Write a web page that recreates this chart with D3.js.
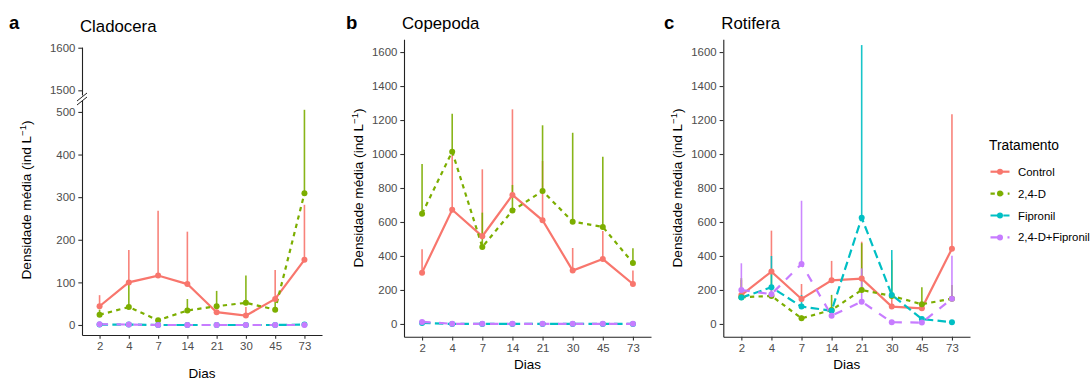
<!DOCTYPE html>
<html><head><meta charset="utf-8">
<script src="https://cdn.jsdelivr.net/npm/d3@7"></script>
<style>
body{margin:0;background:#fff;}
svg{display:block;font-family:"Liberation Sans",Arial,sans-serif;}
</style></head>
<body><svg id="c" width="1091" height="380"></svg>
<script>
// ---- data ----
const days = ["2","4","7","14","21","30","45","73"];
const treatments = ["Control","2,4-D","Fipronil","2,4-D+Fipronil"];
const colors = ["#F8766D","#7CAE00","#00BFC4","#C77CFF"];
const dashes = [null,"4.3,4.3","8.5,4.3","8.5,8.5"];

// Cladocera
const cladoControl      = [44,100,116,96,30,22,61,153];
const cladoControlUp    = [70,176,268,219,34,42,129,282];
const clado24D          = [24,42,11,34,44,52,36,309];
const clado24DUp        = [36,102,14,61,80,116,55,505];
const cladoFip          = [1,1,0,0,0,0,0,1];
const cladoFipUp        = [2,2,1,1,1,1,1,2];
const clado24DFip       = [2,1,0,0,0,0,0,0];
const clado24DFipUp     = [3,2,1,1,1,1,1,1];

// Copepoda
const copeControl       = [302,672,516,759,610,314,382,235];
const copeControlUp     = [439,994,910,1263,959,447,547,314];
const cope24D           = [649,1014,453,667,782,602,571,359];
const cope24DUp         = [941,1237,655,818,1169,1125,984,445];
const copeFip           = [6,0,0,0,0,0,0,0];
const copeFipUp         = [8,1,1,1,1,1,1,1];
const cope24DFip        = [12,1,1,1,1,1,1,1];
const cope24DFipUp      = [14,2,2,2,2,2,2,2];

// Rotifera
const rotiControl       = [170,308,147,257,267,102,92,443];
const rotiControlUp     = [260,549,235,371,484,160,110,1234];
const roti24D           = [157,165,33,82,200,165,116,149];
const roti24DUp         = [270,320,50,171,475,376,216,229];
const rotiFip           = [155,216,102,78,625,171,29,10];
const rotiFipUp         = [200,400,170,100,1641,435,40,15];
const roti24DFip        = [200,175,353,49,131,10,8,149];
const roti24DFipUp      = [357,200,725,60,327,15,10,402];

const yTicksAlow = [0,100,200,300,400,500];
const yTicksAhigh = [1500,1600];
const yTicksBC = [0,200,400,600,800,1000,1200,1400,1600];

// ---- drawing ----
const svg = d3.select("#c");
const axisCol = "#222", tickTxt = "#4D4D4D";
const fmt = d3.format("d");

function styleAxis(g){
  g.attr("font-family",null).attr("font-size",null);
  g.selectAll("path.domain").attr("stroke",axisCol).attr("stroke-width",1.1);
  g.selectAll(".tick line").attr("stroke","#333").attr("stroke-width",1.1);
  g.selectAll(".tick text").attr("fill",tickTxt).style("font-size","11.4px")
    .style("font-family","'Liberation Sans',Arial,sans-serif");
}

function panel(cfg){
  const x = d3.scalePoint().domain(days).range(cfg.xr).padding(0.6);
  const g = svg.append("g");
  const yOf = cfg.yOf;
  // axes
  const xa = g.append("g").attr("transform",`translate(0,${cfg.xAxisY})`)
    .call(d3.axisBottom(x).tickSize(3.7).tickSizeOuter(0).tickPadding(3.5));
  styleAxis(xa);
  cfg.yScales.forEach(s=>{
    const ya = g.append("g").attr("transform",`translate(${cfg.xr[0]},0)`)
      .call(d3.axisLeft(s.scale).tickValues(s.ticks).tickFormat(fmt).tickSize(3.7).tickSizeOuter(0).tickPadding(3));
    styleAxis(ya);
  });
  if(cfg.brk){
    const bx = cfg.xr[0];
    [0,4].forEach(o=>{
      g.append("line").attr("x1",bx-5).attr("y1",cfg.brk+4+o).attr("x2",bx+5).attr("y2",cfg.brk-4+o)
        .attr("stroke",axisCol).attr("stroke-width",1);
    });
  }
  // series
  const series = cfg.series;
  const line = d3.line().x((d,i)=>x(days[i])).y(d=>yOf(d));
  series.forEach((s,k)=>{
    g.append("g").selectAll("line").data(s.m).join("line")
      .attr("x1",(d,i)=>x(days[i])).attr("x2",(d,i)=>x(days[i]))
      .attr("y1",d=>yOf(d)).attr("y2",(d,i)=>yOf(s.u[i]))
      .attr("stroke",colors[k]).attr("stroke-width",1.6).attr("opacity",0.9);
  });
  series.forEach((s,k)=>{
    g.append("path").datum(s.m).attr("d",line).attr("fill","none")
      .attr("stroke",colors[k]).attr("stroke-width",2.2)
      .attr("stroke-dasharray",dashes[k]);
  });
  series.forEach((s,k)=>{
    g.append("g").selectAll("circle").data(s.m).join("circle")
      .attr("cx",(d,i)=>x(days[i])).attr("cy",d=>yOf(d)).attr("r",3)
      .attr("fill",colors[k]);
  });
  // titles
  g.append("text").attr("x",cfg.letterX).attr("y",cfg.letterY).text(cfg.letter)
    .style("font-weight","bold").style("font-size","18.5px").attr("fill","#000");
  g.append("text").attr("x",cfg.xr[0]-2).attr("y",cfg.titleY).text(cfg.title)
    .style("font-size","16.8px").attr("fill","#000");
  g.append("text").attr("x",(cfg.xr[0]+cfg.xr[1])/2).attr("y",cfg.diasY).attr("text-anchor","middle")
    .text("Dias").style("font-size","13.5px").attr("fill","#000");
  const yt = g.append("text").attr("transform",`translate(${cfg.ytX},${cfg.ytY}) rotate(-90)`)
    .attr("text-anchor","middle").style("font-size","13.6px").attr("fill","#000");
  yt.append("tspan").text("Densidade média (ind L");
  yt.append("tspan").text("−1").attr("dy",-5).style("font-size","9.5px");
  yt.append("tspan").text(")").attr("dy",5);
}

// Panel a (broken axis)
const yaLow = d3.scaleLinear().domain([-23.5,528]).range([335,100]);
const yaHigh = d3.scaleLinear().domain([1489,1601.7]).range([95,47]);
panel({
  xr:[82,322], xAxisY:335, letter:"a", letterX:9, letterY:28.5, title:"Cladocera", titleY:32,
  diasY:377.5, ytX:31, ytY:200, brk:97,
  yScales:[{scale:yaLow,ticks:yTicksAlow},{scale:yaHigh,ticks:yTicksAhigh}],
  yOf: v => v>1000 ? yaHigh(v) : yaLow(v),
  series:[{m:cladoControl,u:cladoControlUp},{m:clado24D,u:clado24DUp},{m:cladoFip,u:cladoFipUp},{m:clado24DFip,u:clado24DFipUp}]
});
const yb = d3.scaleLinear().domain([-75,1675]).range([336.7,39.3]);
panel({
  xr:[404,651], xAxisY:336.7, letter:"b", letterX:346, letterY:28.5, title:"Copepoda", titleY:29,
  diasY:368.5, ytX:363, ytY:188,
  yScales:[{scale:yb,ticks:yTicksBC}], yOf: v=>yb(v),
  series:[{m:copeControl,u:copeControlUp},{m:cope24D,u:cope24DUp},{m:copeFip,u:copeFipUp},{m:cope24DFip,u:cope24DFipUp}]
});
const yc = d3.scaleLinear().domain([-75,1675]).range([336.7,39.3]);
panel({
  xr:[723.3,970], xAxisY:336.7, letter:"c", letterX:664, letterY:28.5, title:"Rotifera", titleY:29,
  diasY:368.5, ytX:682, ytY:188,
  yScales:[{scale:yc,ticks:yTicksBC}], yOf: v=>yc(v),
  series:[{m:rotiControl,u:rotiControlUp},{m:roti24D,u:roti24DUp},{m:rotiFip,u:rotiFipUp},{m:roti24DFip,u:roti24DFipUp}]
});

// legend
const lg = svg.append("g");
lg.append("text").attr("x",989).attr("y",150).text("Tratamento").style("font-size","13.8px").attr("fill","#000");
treatments.forEach((t,k)=>{
  const y = 171.7 + k*21.9;
  lg.append("line").attr("x1",990.5).attr("x2",1009.5).attr("y1",y).attr("y2",y)
    .attr("stroke",colors[k]).attr("stroke-width",2.2).attr("stroke-dasharray",dashes[k]);
  lg.append("circle").attr("cx",1000).attr("cy",y).attr("r",3).attr("fill",colors[k]);
  lg.append("text").attr("x",1018).attr("y",y+4).text(t).style("font-size","11.4px").attr("fill","#000");
});
</script></body></html>
